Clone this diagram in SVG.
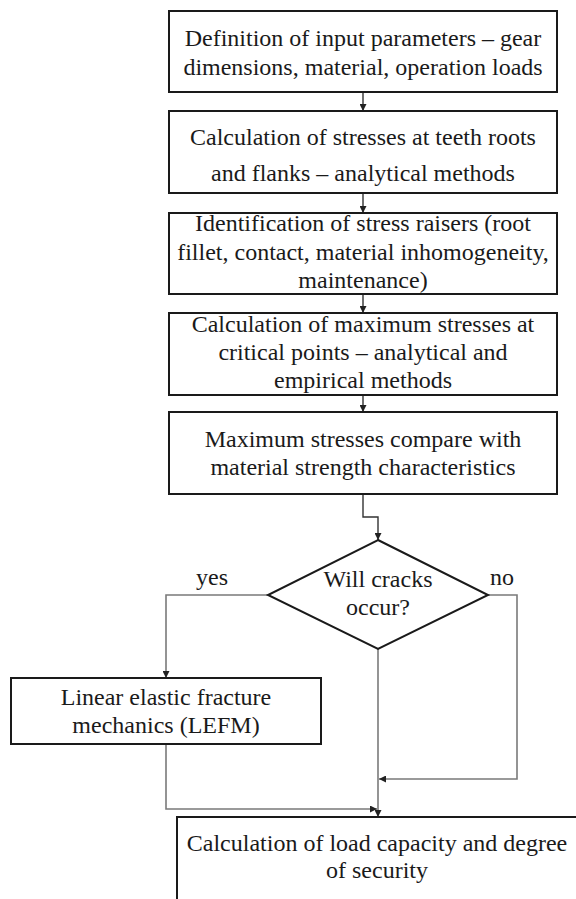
<svg xmlns="http://www.w3.org/2000/svg" width="576" height="899" viewBox="0 0 576 899">
<style>
.box{fill:#fff;stroke:#1a1a1a;stroke-width:2}
.t{font-family:'Liberation Serif','DejaVu Serif',serif;font-size:24px;fill:#1a1a1a;text-anchor:middle}
.c{fill:none;stroke:#7a7a7a;stroke-width:1.6}
.k{fill:none;stroke:#333;stroke-width:1.4}
</style>
<defs>
<marker id="ah" viewBox="0 0 10 10" refX="10" refY="5" markerWidth="7" markerHeight="7" markerUnits="userSpaceOnUse" orient="auto">
<path d="M0,0 L10,5 L0,10 z" fill="#222"/>
</marker>
</defs>
<rect width="576" height="899" fill="#fff"/>
<g id="connectors">
<path class="k" d="M363,92 V111" marker-end="url(#ah)"/>
<path class="k" d="M363,193 V213" marker-end="url(#ah)"/>
<path class="k" d="M363,294 V313" marker-end="url(#ah)"/>
<path class="k" d="M363,395 V412" marker-end="url(#ah)"/>
<path class="k" d="M363,494 V517 H378 V540" marker-end="url(#ah)"/>
<path class="c" d="M268,595 H166 V678" marker-end="url(#ah)"/>
<path class="c" d="M488,595 H517 V779 H379" marker-end="url(#ah)"/>
<path class="c" d="M378,649 V817" marker-end="url(#ah)"/>
<path class="c" d="M166,744 V809 H377" marker-end="url(#ah)"/>
</g>
<g id="n1">
<rect class="box" x="169" y="11" width="388" height="81"/>
<text class="t" font-family="Liberation Serif, serif" x="363" y="46">Definition of input parameters – gear</text>
<text class="t" x="363" y="75">dimensions, material, operation loads</text>
</g>
<g id="n2">
<rect class="box" x="169" y="111" width="388" height="82"/>
<text class="t" x="363" y="145">Calculation of stresses at teeth roots</text>
<text class="t" x="363" y="181">and flanks – analytical methods</text>
</g>
<g id="n3">
<rect class="box" x="169" y="213" width="388" height="81"/>
<text class="t" x="363" y="231">Identification of stress raisers (root</text>
<text class="t" x="363" y="260">fillet, contact, material inhomogeneity,</text>
<text class="t" x="363" y="288">maintenance)</text>
</g>
<g id="n4">
<rect class="box" x="169" y="313" width="388" height="82"/>
<text class="t" x="363" y="332">Calculation of maximum stresses at</text>
<text class="t" x="363" y="360">critical points – analytical and</text>
<text class="t" x="363" y="388">empirical methods</text>
</g>
<g id="n5">
<rect class="box" x="169" y="412" width="388" height="82"/>
<text class="t" x="363" y="447">Maximum stresses compare with</text>
<text class="t" x="363" y="475">material strength characteristics</text>
</g>
<g id="n6">
<path d="M378,540 L488,595 L378,649 L268,595 Z" fill="#fff" stroke="#1a1a1a" stroke-width="2"/>
<text class="t" x="378" y="587">Will cracks</text>
<text class="t" x="378" y="615">occur?</text>
</g>
<g id="labels">
<text class="t" x="212" y="585">yes</text>
<text class="t" x="502" y="585">no</text>
</g>
<g id="n7">
<rect class="box" x="11" y="678" width="310" height="66"/>
<text class="t" x="166" y="705">Linear elastic fracture</text>
<text class="t" x="166" y="733">mechanics (LEFM)</text>
</g>
<g id="n8">
<rect class="box" x="177" y="817" width="402" height="90"/>
<text class="t" x="377" y="851">Calculation of load capacity and degree</text>
<text class="t" x="377" y="878">of security</text>
</g>
</svg>
